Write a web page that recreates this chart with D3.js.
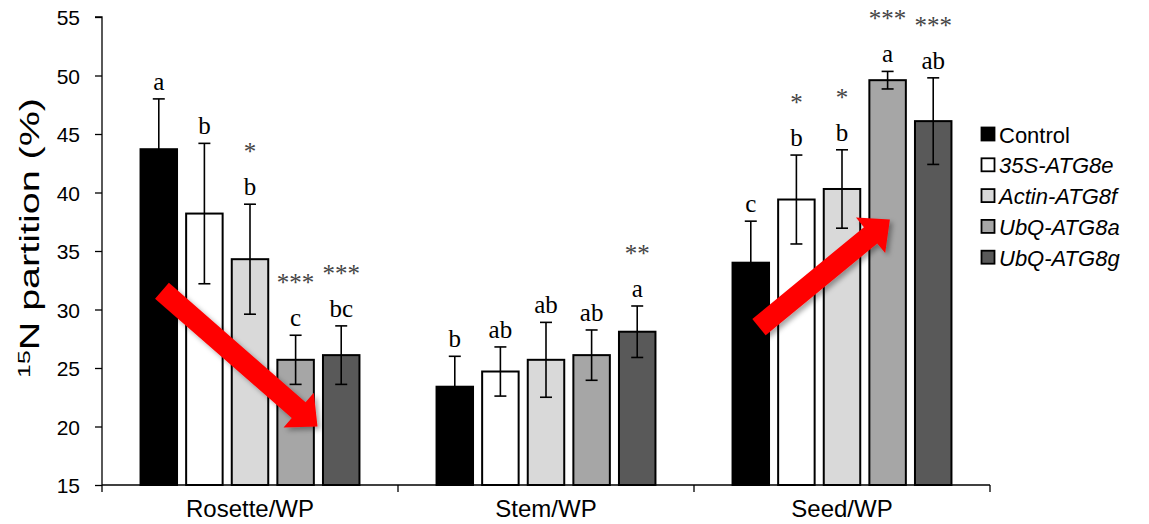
<!DOCTYPE html>
<html>
<head>
<meta charset="utf-8">
<script src="https://cdn.jsdelivr.net/npm/d3@7"></script>
<style>
html,body{margin:0;padding:0;background:#fff;}
svg{display:block;}
</style>
</head>
<body>
<svg id="chart" width="1149" height="524"></svg>
<script>
// ---- data ----
const categories = ["Rosette/WP", "Stem/WP", "Seed/WP"];
const seriesNames = ["Control", "35S-ATG8e", "Actin-ATG8f", "UbQ-ATG8a", "UbQ-ATG8g"];
const seriesItalic = [false, true, true, true, true];
const seriesColors = ["#000000", "#ffffff", "#d9d9d9", "#a6a6a6", "#595959"];

const controlValues = [43.7, 23.4, 34.0];
const atg8eValues   = [38.2, 24.7, 39.4];
const atg8fValues   = [34.3, 25.7, 40.3];
const atg8aValues   = [25.7, 26.1, 49.6];
const atg8gValues   = [26.1, 28.1, 46.1];

const controlErr = [4.3, 2.6, 3.55];
const atg8eErr   = [6.0, 2.1, 3.8];
const atg8fErr   = [4.7, 3.2, 3.35];
const atg8aErr   = [2.1, 2.15, 0.75];
const atg8gErr   = [2.5, 2.2, 3.7];

const controlLetters = ["a", "b", "c"];
const atg8eLetters   = ["b", "ab", "b"];
const atg8fLetters   = ["b", "ab", "b"];
const atg8aLetters   = ["c", "ab", "a"];
const atg8gLetters   = ["bc", "a", "ab"];

const controlStars = ["", "", ""];
const atg8eStars   = ["", "", "*"];
const atg8fStars   = ["*", "", "*"];
const atg8aStars   = ["***", "", "***"];
const atg8gStars   = ["***", "**", "***"];

const yTicks = [15, 20, 25, 30, 35, 40, 45, 50, 55];
const yTitleSup = "15";
const yTitleMain = "N partition (%)";

// trend arrows: bar-index position within the category and value
const arrowCats   = ["Rosette/WP", "Seed/WP"];
const arrowFrom   = [[0.07, 31.6], [0.18, 28.5]];
const arrowTo     = [[3.48, 20.0], [3.05, 37.7]];

const allValues  = [controlValues, atg8eValues, atg8fValues, atg8aValues, atg8gValues];
const allErr     = [controlErr, atg8eErr, atg8fErr, atg8aErr, atg8gErr];
const allLetters = [controlLetters, atg8eLetters, atg8fLetters, atg8aLetters, atg8gLetters];
const allStars   = [controlStars, atg8eStars, atg8fStars, atg8aStars, atg8gStars];

// ---- layout ----
const M = {left: 102, right: 990, top: 17, bottom: 485};
const svg = d3.select("#chart");

const y = d3.scaleLinear().domain([15, 55]).range([M.bottom, M.top]);
const x0 = d3.scaleBand().domain(categories).range([M.left, M.right]);
const x1 = d3.scaleBand().domain(seriesNames).range([0, x0.bandwidth()])
  .paddingInner(0.2).paddingOuter(0.845);

const defs = svg.append("defs");
const f = defs.append("filter").attr("id", "shadow")
  .attr("x", "-20%").attr("y", "-20%").attr("width", "140%").attr("height", "140%");
f.append("feDropShadow").attr("dx", 3).attr("dy", 3).attr("stdDeviation", 2.5)
  .attr("flood-color", "#000").attr("flood-opacity", 0.35);

// records
const recs = [];
seriesNames.forEach((s, si) => {
  categories.forEach((c, ci) => {
    recs.push({s, si, c, ci, v: allValues[si][ci], e: allErr[si][ci],
      letter: allLetters[si][ci], star: allStars[si][ci]});
  });
});

// bars
svg.append("g").selectAll("rect").data(recs).join("rect")
  .attr("x", d => x0(d.c) + x1(d.s))
  .attr("y", d => y(d.v))
  .attr("width", x1.bandwidth())
  .attr("height", d => y(15) - y(d.v))
  .attr("fill", d => seriesColors[d.si])
  .attr("stroke", "#000").attr("stroke-width", 2);

// error bars
const eg = svg.append("g").attr("stroke", "#000").attr("stroke-width", 1.6);
recs.forEach(d => {
  const cx = x0(d.c) + x1(d.s) + x1.bandwidth() / 2;
  eg.append("line").attr("x1", cx).attr("x2", cx).attr("y1", y(d.v - d.e)).attr("y2", y(d.v + d.e));
  eg.append("line").attr("x1", cx - 6).attr("x2", cx + 6).attr("y1", y(d.v + d.e)).attr("y2", y(d.v + d.e));
  eg.append("line").attr("x1", cx - 6).attr("x2", cx + 6).attr("y1", y(d.v - d.e)).attr("y2", y(d.v - d.e));
});

// letters and stars
const tg = svg.append("g").attr("font-family", "'Liberation Serif', 'Times New Roman', serif")
  .attr("text-anchor", "middle");
tg.selectAll("text.letter").data(recs).join("text").attr("class", "letter")
  .attr("x", d => x0(d.c) + x1(d.s) + x1.bandwidth() / 2)
  .attr("y", d => y(d.v + d.e) - 9)
  .attr("font-size", 25).attr("fill", "#000")
  .text(d => d.letter);
tg.selectAll("text.star").data(recs.filter(d => d.star)).join("text").attr("class", "star")
  .attr("x", d => x0(d.c) + x1(d.s) + x1.bandwidth() / 2)
  .attr("y", d => y(d.v + d.e) - 44)
  .attr("font-size", 25).attr("fill", "#444")
  .text(d => d.star);

// axes
const yAxis = d3.axisLeft(y).tickValues(yTicks).tickSize(7).tickPadding(15).tickFormat(d3.format("d"));
const gy = svg.append("g").attr("transform", `translate(${M.left},0)`).call(yAxis);
gy.select(".domain").attr("stroke", "#000").attr("stroke-width", 1.3).attr("d", `M-7,${M.top}H0V${M.bottom}`);
gy.selectAll(".tick line").attr("stroke", "#000").attr("stroke-width", 1.3);
gy.selectAll(".tick text").attr("font-family", "'Liberation Sans', Arial, sans-serif")
  .attr("font-size", 21).attr("fill", "#000").attr("dy", "0.36em");

const xAxis = d3.axisBottom(x0).tickSize(0).tickPadding(15);
const gx = svg.append("g").attr("transform", `translate(0,${M.bottom})`).call(xAxis);
gx.select(".domain").attr("stroke", "#000").attr("stroke-width", 1.3).attr("d", `M${M.left},0H${M.right}`);
gx.selectAll(".tick text").attr("font-family", "'Liberation Sans', Arial, sans-serif")
  .attr("font-size", 24).attr("fill", "#000");
// category boundary ticks
const bounds = categories.map(c => x0(c)).concat([x0(categories[categories.length - 1]) + x0.bandwidth()]);
gx.selectAll("line.bound").data(bounds).join("line").attr("class", "bound")
  .attr("x1", d => d).attr("x2", d => d).attr("y1", 0).attr("y2", 7)
  .attr("stroke", "#000").attr("stroke-width", 1.3);

// y title
const yt = svg.append("text")
  .attr("font-family", "'Liberation Sans', Arial, sans-serif")
  .attr("font-size", 27).attr("fill", "#000").attr("text-anchor", "middle");
yt.append("tspan").attr("font-size", 17).attr("dy", "-0.55em").text(yTitleSup);
yt.append("tspan").attr("dy", "0.35em").text(yTitleMain);
const tlen = yt.node().getComputedTextLength();
const k = 280 / tlen;
yt.attr("transform", `translate(39,238) rotate(-90) scale(${k},1)`);

// arrows
const ag = svg.append("g").attr("filter", "url(#shadow)");
arrowCats.forEach((c, i) => {
  const base = x0(c) + x1(seriesNames[0]) + x1.bandwidth() / 2;
  const px = t => base + t * x1.step();
  const ax = px(arrowFrom[i][0]), ay = y(arrowFrom[i][1]);
  const bx = px(arrowTo[i][0]), by = y(arrowTo[i][1]);
  const L = Math.hypot(bx - ax, by - ay);
  const ux = (bx - ax) / L, uy = (by - ay) / L;
  const nx = -uy, ny = ux;
  const w = 10.5, hw = 23, hl = 25;
  const neckX = bx - ux * hl, neckY = by - uy * hl;
  const pts = [
    [ax + nx * w, ay + ny * w],
    [neckX + nx * w, neckY + ny * w],
    [neckX + nx * hw, neckY + ny * hw],
    [bx, by],
    [neckX - nx * hw, neckY - ny * hw],
    [neckX - nx * w, neckY - ny * w],
    [ax - nx * w, ay - ny * w]
  ];
  ag.append("polygon").attr("points", pts.map(p => p.join(",")).join(" "))
    .attr("fill", "#ff0000");
});

// legend
const lg = svg.append("g");
seriesNames.forEach((s, i) => {
  const cy = 134.5 + i * 30.8;
  lg.append("rect").attr("x", 981.5).attr("y", cy - 7).attr("width", 13).attr("height", 13)
    .attr("fill", seriesColors[i]).attr("stroke", "#000").attr("stroke-width", 1.8);
  lg.append("text").attr("x", 999).attr("y", cy + 8)
    .attr("font-family", "'Liberation Sans', Arial, sans-serif")
    .attr("font-size", 22).attr("font-style", seriesItalic[i] ? "italic" : "normal")
    .attr("fill", "#000").text(s);
});
</script>
</body>
</html>
